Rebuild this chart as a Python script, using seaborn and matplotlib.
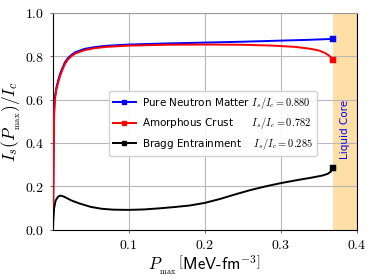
import numpy as np
import pandas as pd
import matplotlib
matplotlib.use("Agg")
import matplotlib.pyplot as plt
import seaborn as sns
from matplotlib.lines import Line2D
from matplotlib.ticker import FuncFormatter

# curves: P_max [MeV fm^-3] vs I_s/I_c
pnm_x = [0.0005, 0.001, 0.0015, 0.002, 0.003, 0.005, 0.0075, 0.01, 0.013, 0.016, 0.02,
         0.025, 0.03, 0.042, 0.055, 0.07, 0.1, 0.15, 0.2, 0.25, 0.3, 0.34, 0.369]
pnm_y = [0.0, 0.22, 0.42, 0.55, 0.61, 0.655, 0.69, 0.72, 0.745, 0.77, 0.79,
         0.806, 0.818, 0.833, 0.841, 0.847, 0.853, 0.858, 0.862, 0.866, 0.871, 0.875, 0.879]

crust_x = [0.0005, 0.001, 0.0015, 0.002, 0.003, 0.005, 0.0075, 0.01, 0.013, 0.016, 0.02,
           0.025, 0.03, 0.042, 0.055, 0.07, 0.1, 0.15, 0.2, 0.25, 0.29, 0.32, 0.34,
           0.35, 0.358, 0.364, 0.369]
crust_y = [0.0, 0.2, 0.4, 0.53, 0.6, 0.645, 0.68, 0.71, 0.737, 0.762, 0.783,
           0.8, 0.812, 0.827, 0.836, 0.842, 0.848, 0.852, 0.853, 0.852, 0.848, 0.842, 0.833,
           0.826, 0.815, 0.802, 0.782]

bragg_x = [0.0005, 0.001, 0.002, 0.004, 0.007, 0.010, 0.015, 0.025, 0.035, 0.05, 0.065,
           0.08, 0.1, 0.12, 0.14, 0.16, 0.18, 0.2, 0.22, 0.24, 0.26, 0.28, 0.30, 0.32,
           0.34, 0.355, 0.362, 0.366, 0.369]
bragg_y = [0.0, 0.05, 0.1, 0.135, 0.152, 0.158, 0.153, 0.135, 0.122, 0.106, 0.097,
           0.093, 0.092, 0.094, 0.099, 0.105, 0.112, 0.124, 0.142, 0.163, 0.183, 0.2, 0.215, 0.228,
           0.24, 0.25, 0.258, 0.268, 0.284]

labels = [r"Pure Neutron Matter $I_s/I_c = 0.880$",
          r"Amorphous Crust      $I_s/I_c = 0.782$",
          r"Bragg Entrainment    $I_s/I_c = 0.285$"]
colors = ["blue", "red", "black"]
core_start, core_end = 0.369, 0.4

plt.rcParams["mathtext.fontset"] = "cm"

fig = plt.figure(figsize=(3.73, 2.80), dpi=100)
ax = fig.add_axes([0.141, 0.179, 0.815, 0.776])

ax.axvspan(core_start, core_end, color="orange", alpha=0.35, lw=0, zorder=0)
ax.text(0.385, 0.46, "Liquid Core", color="blue", rotation=90,
        ha="center", va="center", fontsize=7.5)

series = [(pnm_x, pnm_y), (crust_x, crust_y), (bragg_x, bragg_y)]
handles = []
for (xs, ys), c, lab in zip(series, colors, labels):
    df = pd.DataFrame({"P": xs, "I": ys})
    sns.lineplot(data=df, x="P", y="I", color=c, lw=1.4, sort=False,
                 estimator=None, ax=ax, zorder=3)
    sns.scatterplot(x=[xs[-1]], y=[ys[-1]], color=c, marker="s", s=16,
                    edgecolor=c, ax=ax, zorder=4)
    handles.append(Line2D([], [], color=c, lw=1.4, marker="s", markersize=3.5))

ax.set_xlim(0, 0.4)
ax.set_ylim(0, 1.0)
ax.set_xticks([0.1, 0.2, 0.3, 0.4])
ax.set_yticks([0.0, 0.2, 0.4, 0.6, 0.8, 1.0])
fmt = FuncFormatter(lambda v, p: f"${v:.1f}$")
ax.xaxis.set_major_formatter(fmt)
ax.yaxis.set_major_formatter(fmt)
ax.tick_params(labelsize=10, length=2.5, width=0.6, colors="0.3", labelcolor="black")
ax.grid(True, color="0.72", lw=0.8, zorder=1)
for s in ["left", "bottom", "right"]:
    ax.spines[s].set_color("black")
ax.spines["top"].set_color("0.6")

ax.set_xlabel(r"$P_{_{\rm max}}\,\left[\mathsf{MeV}\text{-}\mathsf{fm}^{-3}\right]$", fontsize=12, labelpad=1)
ax.set_ylabel(r"$I_s(P_{_{\rm max}})/I_c$", fontsize=12.5, labelpad=1)

ax.legend(handles, labels, loc="center", bbox_to_anchor=(0.527, 0.49),
          fontsize=7.5, handlelength=2.2, framealpha=0.9, borderpad=0.4,
          labelspacing=0.45, handletextpad=0.6)

fig.savefig("out.png", dpi=100)
